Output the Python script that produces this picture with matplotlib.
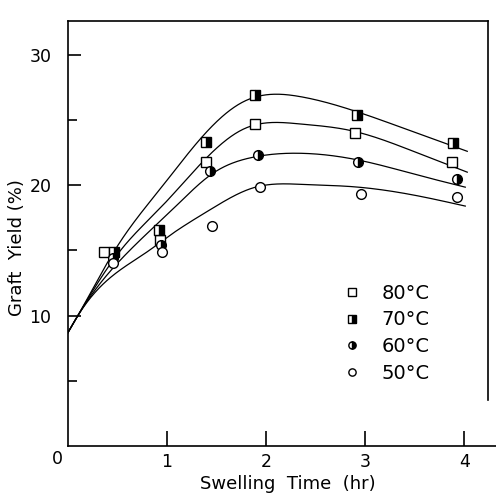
import numpy as np
import matplotlib
matplotlib.use('Agg')
import matplotlib.pyplot as plt

plt.rcParams['font.family'] = ['DejaVu Sans']

# measured points
labels = ['80°C', '70°C', '60°C', '50°C']
t80 = [0.36, 0.93, 1.39, 1.89, 2.90, 3.88]
y80 = [14.9, 15.8, 21.8, 24.7, 24.0, 21.8]
t70 = [0.46, 0.92, 1.39, 1.89, 2.92, 3.89]
y70 = [14.9, 16.6, 23.3, 26.9, 25.4, 23.2]
t60 = [0.45, 0.94, 1.43, 1.92, 2.93, 3.93]
y60 = [14.4, 15.4, 21.1, 22.3, 21.8, 20.5]
t50 = [0.45, 0.95, 1.45, 1.94, 2.96, 3.93]
y50 = [14.0, 14.9, 16.9, 19.85, 19.3, 19.1]

# points along the drawn curves
c80x = [0, 0.10, 0.52, 0.95, 1.36, 1.77, 2.34, 2.85, 3.52, 4.03]
c80y = [8.7, 10.0, 14.9, 18.4, 21.8, 24.3, 24.7, 24.2, 22.5, 21.0]
c70x = [0, 0.10, 0.48, 0.95, 1.33, 1.77, 2.34, 2.85, 3.52, 4.03]
c70y = [8.7, 10.0, 15.1, 19.9, 23.5, 26.4, 26.8, 25.8, 24.0, 22.6]
c60x = [0, 0.10, 0.61, 1.09, 1.46, 1.84, 2.34, 2.95, 3.52, 4.01]
c60y = [8.7, 10.0, 14.9, 18.4, 20.9, 22.1, 22.45, 21.9, 20.8, 19.85]
c50x = [0, 0.10, 0.82, 1.00, 1.43, 1.87, 2.40, 2.85, 3.52, 4.01]
c50y = [8.7, 10.0, 15.0, 16.0, 18.1, 19.8, 20.05, 19.9, 19.2, 18.4]


def spline(x, y, xs):
    # natural cubic spline
    x = np.asarray(x, float)
    y = np.asarray(y, float)
    n = len(x)
    h = np.diff(x)
    A = np.zeros((n, n))
    r = np.zeros(n)
    A[0, 0] = A[-1, -1] = 1
    for i in range(1, n - 1):
        A[i, i - 1] = h[i - 1]
        A[i, i] = 2 * (h[i - 1] + h[i])
        A[i, i + 1] = h[i]
        r[i] = 3 * ((y[i + 1] - y[i]) / h[i] - (y[i] - y[i - 1]) / h[i - 1])
    c = np.linalg.solve(A, r)
    b = np.diff(y) / h - h * (2 * c[:-1] + c[1:]) / 3
    d = np.diff(c) / (3 * h)
    i = np.clip(np.searchsorted(x, xs) - 1, 0, n - 2)
    dx = xs - x[i]
    return y[i] + b[i] * dx + c[i] * dx**2 + d[i] * dx**3


fig = plt.figure(figsize=(4.96, 4.98), dpi=100)
ax = fig.add_axes([0.137, 0.1044, 0.863, 0.8536])

series = [
    (t80, y80, c80x, c80y, 's', 'white', 'full'),
    (t70, y70, c70x, c70y, 's', 'black', 'right'),
    (t60, y60, c60x, c60y, 'o', 'black', 'right'),
    (t50, y50, c50x, c50y, 'o', 'white', 'full'),
]
for (tx, ty, cx, cy, mk, fc, fs), lab in zip(series, labels):
    xs = np.linspace(cx[0], cx[-1], 400)
    ax.plot(xs, spline(cx, cy, xs), color='black', lw=0.9, zorder=2)
    ax.plot(tx, ty, ls='none', marker=mk, ms=7, mfc=fc, mfcalt='white',
            fillstyle=fs, mec='black', mew=1.0, color='black', zorder=3, label=lab)

ax.set_xlim(0, 4.32)
ax.set_ylim(0, 32.6)

# frame: top and right lines of the box
ax.spines['top'].set_visible(False)
ax.spines['right'].set_visible(False)
ax.plot([0, 4.24], [32.6, 32.6], color='black', lw=1.2, clip_on=False)
ax.plot([4.24, 4.24], [3.5, 32.6], color='black', lw=1.2, clip_on=False)
for s in ['left', 'bottom']:
    ax.spines[s].set_linewidth(1.2)

ax.set_xticks([1, 2, 3, 4])
ax.set_yticks([10, 20, 30])
ax.set_yticks([5, 15, 25], minor=True)
ax.tick_params(axis='x', direction='in', length=11, width=1.2, pad=5, labelsize=12.5)
ax.tick_params(axis='y', which='major', direction='in', length=9, width=1.2, pad=12, labelsize=12.5)
ax.tick_params(axis='y', which='minor', direction='in', length=6.5, width=1.2)
ax.text(-0.11, -1.0, '0', ha='center', va='center', fontsize=12.5)

ax.text(0.514, -0.068, 'Swelling  Time  (hr)', transform=ax.transAxes,
        ha='center', va='top', fontsize=13)
ax.text(-0.119, 0.466, 'Graft  Yield (%)', transform=ax.transAxes,
        ha='center', va='center', rotation=90, fontsize=13)

ax.legend(loc='upper left', bbox_to_anchor=(0.640, 0.382), frameon=False,
          borderaxespad=0, borderpad=0, handlelength=1.0, handletextpad=1.05,
          labelspacing=0.4, markerscale=0.75, fontsize=14, numpoints=1)

fig.savefig('out.png', dpi=100)
